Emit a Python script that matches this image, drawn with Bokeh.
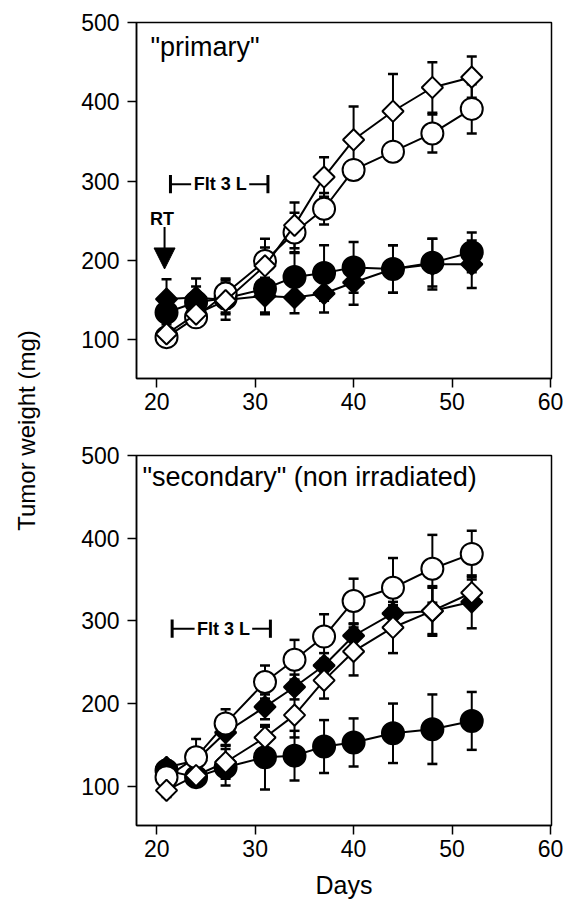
import numpy as np
from bokeh.plotting import figure
from bokeh.layouts import row, column
from bokeh.models import Label, Arrow, NormalHead, FixedTicker, Range1d
from bokeh.embed import file_html
from bokeh.resources import INLINE

# ---------------- data ----------------
days = [21, 24, 27, 31, 34, 37, 40, 44, 48, 52]
x_ticks = [20, 30, 40, 50, 60]
y_ticks = [100, 200, 300, 400, 500]

# "primary" panel
prim_open_circle = [103, 128, 158, 199, 235, 265, 314, 337, 360, 391]
prim_open_circle_err = [8, 10, 19, 28, 25, 20, 12, 12, 24, 31]
prim_open_diamond = [107, 132, 149, 193, 244, 305, 352, 388, 418, 431]
prim_open_diamond_err = [8, 10, 15, 23, 29, 25, 42, 47, 32, 26]
prim_filled_circle = [134, 147, 152, 164, 179, 184, 191, 189, 197, 210]
prim_filled_circle_err = [15, 20, 20, 30, 30, 35, 32, 30, 30, 25]
prim_filled_diamond = [151, 153, 150, 155, 153, 158, 172, 189, 195, 195]
prim_filled_diamond_err = [25, 24, 25, 23, 20, 24, 28, 30, 32, 30]

# "secondary" panel
sec_open_circle = [111, 135, 176, 226, 253, 281, 324, 340, 363, 381]
sec_open_circle_err = [8, 22, 17, 20, 24, 27, 27, 36, 41, 28]
sec_filled_diamond = [123, 131, 165, 196, 220, 246, 282, 309, 312, 323]
sec_filled_diamond_err = [8, 10, 15, 15, 15, 15, 14, 10, 28, 32]
sec_open_diamond = [95, 113, 129, 159, 186, 228, 263, 292, 312, 334]
sec_open_diamond_err = [8, 10, 20, 13, 27, 22, 29, 31, 30, 16]
sec_filled_circle = [119, 111, 123, 135, 137, 148, 153, 164, 169, 179]
sec_filled_circle_err = [8, 8, 22, 39, 30, 32, 29, 36, 42, 35]

FONT = "Liberation Sans"
X_RANGE = (17.95, 60.1)


def make_panel(height, b_top, b_bottom, y_start):
    p = figure(width=515, height=height,
               x_range=Range1d(*X_RANGE), y_range=Range1d(y_start, 500),
               output_backend="svg", toolbar_location=None,
               min_border_left=88, min_border_right=12,
               min_border_top=b_top, min_border_bottom=b_bottom)
    p.xgrid.visible = False
    p.ygrid.visible = False
    p.outline_line_color = "black"
    p.outline_line_width = 1.5
    p.outline_line_alpha = 1.0
    p.background_fill_color = "white"
    p.border_fill_color = "white"
    p.xaxis.ticker = FixedTicker(ticks=x_ticks)
    p.yaxis.ticker = FixedTicker(ticks=y_ticks)
    for ax in (p.xaxis[0], p.yaxis[0]):
        ax.axis_line_color = "black"
        ax.axis_line_width = 1.5
        ax.major_tick_line_color = "black"
        ax.major_tick_line_width = 1.5
        ax.major_tick_in = 0
        ax.major_tick_out = 9
        ax.minor_tick_line_color = None
        ax.major_label_text_font = FONT
        ax.major_label_text_font_size = "23px"
        ax.major_label_text_color = "black"
    p.yaxis.major_label_standoff = 8
    p.xaxis.major_label_standoff = 5
    return p


def draw_series_errors(p, ys, errs):
    ys = np.array(ys, dtype=float)
    errs = np.array(errs, dtype=float)
    lo, hi = ys - errs, ys + errs
    p.segment(x0=days, y0=lo, x1=days, y1=hi, line_color="black", line_width=2)
    p.scatter(x=days, y=hi, marker="dash", size=10, line_color="black", line_width=2.5)
    p.scatter(x=days, y=lo, marker="dash", size=10, line_color="black", line_width=2.5)


def draw_series(p, ys, marker, filled):
    p.line(x=days, y=ys, line_color="black", line_width=2)
    fill = "black" if filled else "white"
    if marker == "circle":
        p.scatter(x=days, y=ys, marker="circle", size=22, fill_color=fill,
                  line_color="black", line_width=2)
    else:
        p.scatter(x=days, y=ys, marker="square", size=15, angle=np.pi / 4,
                  fill_color=fill, line_color="black", line_width=2)


def flt3l(p, y, x0, x1, xt0, xt1, half):
    p.segment(x0=[x0, xt1], y0=[y, y], x1=[xt0, x1], y1=[y, y],
              line_color="black", line_width=2)
    p.segment(x0=[x0, x1], y0=[y - half, y - half], x1=[x0, x1], y1=[y + half, y + half],
              line_color="black", line_width=3)
    p.add_layout(Label(x=(xt0 + xt1) / 2, y=y, text="Flt 3 L", text_align="center",
                       text_baseline="middle", text_font=FONT, text_font_style="bold",
                       text_font_size="18px", text_color="black"))


# ---------------- top panel ----------------
p1 = make_panel(422, 22, 44, 50.8)
series1 = [(prim_filled_circle, prim_filled_circle_err, "circle", True),
           (prim_filled_diamond, prim_filled_diamond_err, "diamond", True),
           (prim_open_circle, prim_open_circle_err, "circle", False),
           (prim_open_diamond, prim_open_diamond_err, "diamond", False)]
for ys, es, m, f in series1:
    draw_series_errors(p1, ys, es)
for ys, es, m, f in series1:
    draw_series(p1, ys, m, f)

p1.add_layout(Label(x=19.37, y=468.5, text='"primary"', text_font=FONT,
                    text_font_size="27px", text_color="black",
                    text_align="left", text_baseline="alphabetic"))
flt3l(p1, 296, 21.4, 31.3, 23.5, 29.4, 11.5)
p1.add_layout(Label(x=20.55, y=252.5, text="RT", text_font=FONT, text_font_style="bold",
                    text_font_size="18px", text_color="black",
                    text_align="center", text_baseline="alphabetic"))
p1.add_layout(Arrow(x_start=20.8, y_start=242, x_end=20.8, y_end=189,
                    line_color="black", line_width=2,
                    end=NormalHead(size=21, fill_color="black", line_color="black")))

# ---------------- bottom panel ----------------
p2 = make_panel(481, 33, 78, 52.5)
series2 = [(sec_filled_circle, sec_filled_circle_err, "circle", True),
           (sec_filled_diamond, sec_filled_diamond_err, "diamond", True),
           (sec_open_circle, sec_open_circle_err, "circle", False),
           (sec_open_diamond, sec_open_diamond_err, "diamond", False)]
for ys, es, m, f in series2:
    draw_series_errors(p2, ys, es)
for ys, es, m, f in series2:
    draw_series(p2, ys, m, f)

p2.add_layout(Label(x=18.56, y=473.5, text='"secondary" (non irradiated)', text_font=FONT,
                    text_font_size="27px", text_color="black",
                    text_align="left", text_baseline="alphabetic"))
flt3l(p2, 290.5, 21.57, 31.55, 23.85, 29.7, 11)
p2.xaxis.axis_label = "Days"
p2.xaxis.axis_label_text_font = FONT
p2.xaxis.axis_label_text_font_size = "25px"
p2.xaxis.axis_label_text_font_style = "normal"
p2.xaxis.axis_label_text_color = "black"
p2.xaxis.axis_label_standoff = 11

# ---------------- shared y label ----------------
lab = figure(width=48, height=903, x_range=Range1d(0, 48), y_range=Range1d(0, 903),
             output_backend="svg", toolbar_location=None,
             x_axis_location=None, y_axis_location=None, min_border=0)
lab.xgrid.visible = False
lab.ygrid.visible = False
lab.outline_line_color = None
lab.add_layout(Label(x=26, y=473, text="Tumor weight (mg)", angle=np.pi / 2,
                     text_align="center", text_baseline="middle", text_font=FONT,
                     text_font_size="24px", text_color="black"))

layout = row(lab, column(p1, p2))
open("out.html", "w").write(file_html(layout, INLINE))
